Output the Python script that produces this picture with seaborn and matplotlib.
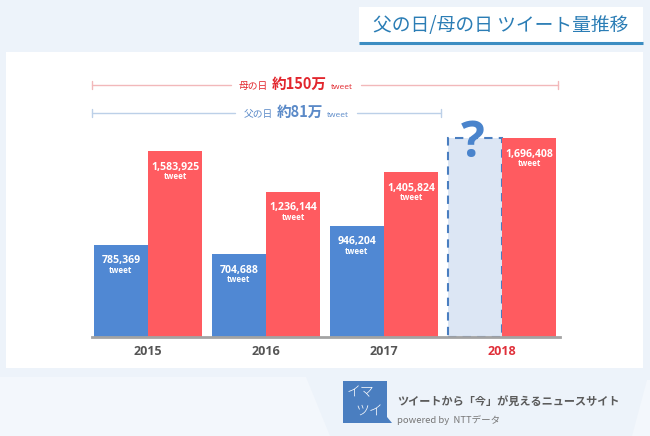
import pandas as pd
import numpy as np
import matplotlib
matplotlib.use("Agg")
import matplotlib.pyplot as plt
import seaborn as sns
from matplotlib.patches import Rectangle, Polygon

# data
years = ["2015", "2016", "2017", "2018"]
father_day = [785369, 704688, 946204, None]   # 2018 unknown -> "?"
mother_day = [1583925, 1236144, 1405824, 1696408]
series_names = ["父の日", "母の日"]

title = "父の日/母の日 ツイート量推移"
mother_note = ("母の日", "約150万", "tweet")
father_note = ("父の日", "約81万", "tweet")

BLUE = "#5088D3"
RED = "#FF5B60"
BG = "#EDF3FA"
LATIN = ["Open Sans", "DejaVu Sans"]

sns.set_theme(style="white")
plt.rcParams["font.family"] = ["Noto Sans CJK JP", "DejaVu Sans"]

# the unknown 2018 box is drawn as tall as the mother's day bar
placeholder = mother_day[-1]
rows = []
for i, y in enumerate(years):
    fv = father_day[i] if father_day[i] is not None else placeholder
    rows.append({"year": y, "series": series_names[0], "value": fv})
    rows.append({"year": y, "series": series_names[1], "value": mother_day[i]})
df = pd.DataFrame(rows)

fig = plt.figure(figsize=(6.5, 4.36), dpi=100)
fig.patch.set_facecolor(BG)
renderer = fig.canvas.get_renderer()

# background layer in pixel coordinates
bg = fig.add_axes([0, 0, 1, 1], zorder=0)
bg.set_xlim(0, 650)
bg.set_ylim(436, 0)
bg.axis("off")
bg.add_patch(Rectangle((6, 52), 637, 316, facecolor="white", edgecolor="none"))
bg.add_patch(Polygon([(0, 377), (306, 377), (330, 436), (0, 436)], closed=True,
                     facecolor="#F3F7FC", edgecolor="none"))
bg.add_patch(Polygon([(647, 380), (650, 380), (650, 436), (632, 436)], closed=True,
                     facecolor="#F3F7FC", edgecolor="none"))

# title box
bg.add_patch(Rectangle((359, 7), 284, 35, facecolor="white", edgecolor="none"))
bg.plot([359, 643], [43, 43], color="#3C8DC2", lw=2.2, solid_capstyle="butt")
bg.text(501, 25, title, ha="center", va="center", fontsize=13.5, color="#2B7DB5")

# range notes
def note(y, x0, x1, center, parts, color, linecolor):
    sizes = [7, 10.5, 6]
    weights = ["normal", "bold", "normal"]
    fams = [None, None, LATIN]
    texts = []
    for p, s, w, f in zip(parts, sizes, weights, fams):
        kw = {"family": f} if f else {}
        texts.append(bg.text(0, y + 4, p, ha="left", va="baseline", fontsize=s,
                             fontweight=w, color=color, **kw))
    widths = [t.get_window_extent(renderer).width for t in texts]
    gap = 4
    total = sum(widths) + gap * (len(widths) - 1)
    x = center - total / 2
    for t, w in zip(texts, widths):
        t.set_x(x)
        x += w + gap
    left_gap = center - total / 2 - 8
    right_gap = center + total / 2 + 8
    bg.plot([x0, left_gap], [y, y], color=linecolor, lw=1)
    bg.plot([right_gap, x1], [y, y], color=linecolor, lw=1)
    for xx in (x0, x1):
        bg.plot([xx, xx], [y - 4, y + 4], color=linecolor, lw=1)

note(85, 92, 558, 296, mother_note, "#E2262D", "#F2B8BA")
note(113, 92, 441, 296, father_note, "#5B8AC8", "#BCD0E8")

# bar chart
ymax = 2.0e6
px_per = 1.171e-4
ax = fig.add_axes([92 / 650, (436 - 336.7) / 436, (560 - 92) / 650,
                   ymax * px_per / 436], zorder=1)
ax.patch.set_alpha(0)
sns.barplot(data=df, x="year", y="value", hue="series", order=years,
            hue_order=series_names, palette=[BLUE, RED], width=0.92,
            saturation=1, linewidth=0, ax=ax, legend=False)
ax.set_xlim(-0.4746, 3.4915)
ax.set_ylim(0, ymax)
ax.set_xlabel("")
ax.set_ylabel("")
ax.set_yticks([])
for s in ["top", "left", "right"]:
    ax.spines[s].set_visible(False)
ax.spines["bottom"].set_color("#A3A3A3")
ax.spines["bottom"].set_linewidth(2)
ax.tick_params(axis="x", length=0, pad=6)
for lbl in ax.get_xticklabels():
    lbl.set_fontsize(9)
    lbl.set_fontweight("bold")
    lbl.set_family(LATIN)
    lbl.set_color("#E0303A" if lbl.get_text() == "2018" else "#555555")

father_bars, mother_bars = ax.containers[0], ax.containers[1]

for bars, vals in ((father_bars, father_day), (mother_bars, mother_day)):
    for bar, v in zip(bars, vals):
        cx = bar.get_x() + bar.get_width() / 2
        if v is None:
            bar.set_facecolor("#DCE6F4")
            bar.set_edgecolor("#4A7EC0")
            bar.set_linestyle((0, (4, 3)))
            bar.set_linewidth(1.5)
            bar.set_zorder(0.5)
            ax.annotate("?", (cx, bar.get_height()), xytext=(-1.5, -4),
                        textcoords="offset points", ha="center", va="center",
                        fontsize=36, fontweight="bold", color="#4A84CC",
                        family=LATIN, zorder=3)
            continue
        ax.annotate(f"{v:,}", (cx, v), xytext=(0, -11.5),
                    textcoords="offset points", ha="center", va="center",
                    fontsize=7.6, fontweight="bold", color="white", family=LATIN)
        ax.annotate("tweet", (cx, v), xytext=(0, -18.2),
                    textcoords="offset points", ha="center", va="center",
                    fontsize=5.8, fontweight="bold", color="white", family=LATIN)
for bar in mother_bars:
    bar.set_zorder(2)

# footer logo
bg.add_patch(Polygon([(343, 381), (387, 381), (387, 417), (392, 423), (343, 423)],
                     closed=True, facecolor="#4A7EC0", edgecolor="none"))
bg.text(347, 392, "イマ", ha="left", va="center", fontsize=10, color="white",
        fontweight="light")
bg.text(355, 411, "ツイ", ha="left", va="center", fontsize=10, color="white",
        fontweight="light")
bg.text(397, 402, "ツイートから「今」が見えるニュースサイト", ha="left", va="center",
        fontsize=8, fontweight="bold", color="#5A5A5A")
bg.text(397, 420, "powered by  NTTデータ", ha="left", va="center",
        fontsize=6.8, color="#777777")

fig.savefig("out.png", dpi=100, facecolor=fig.get_facecolor())
